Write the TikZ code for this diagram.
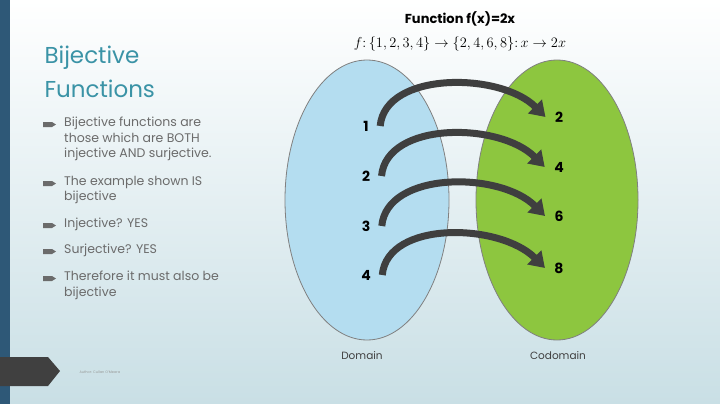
\documentclass[tikz,border=0pt]{standalone}
\usepackage{fontspec}
\setmainfont{Poppins}
\usetikzlibrary{arrows.meta}
\definecolor{barblue}{HTML}{2E5877}
\definecolor{titleteal}{HTML}{3A93A6}
\definecolor{textgrey}{HTML}{6B6B6B}
\definecolor{domblue}{HTML}{B4DDF0}
\definecolor{codgreen}{HTML}{8DC63F}
\definecolor{arrgrey}{HTML}{3F3F3F}
\definecolor{bgbottom}{HTML}{C9DFE5}
\tikzset{
  num/.style={font=\fontsize{14}{14}\selectfont\bfseries, text=black},
  maparrow/.style={line width=7pt, color=arrgrey, -{Triangle[width=19pt,length=15pt]}},
  bullet/.style={anchor=north west, text width=172pt, align=flush left, inner sep=0pt,
    font=\fontsize{12.5}{15.5}\selectfont, text=textgrey},
}
\begin{document}
\begin{tikzpicture}[x=1pt,y=-1pt]

% background
\shade[top color=white, bottom color=bgbottom] (0,0) rectangle (720,404);
\fill[barblue] (0,0) rectangle (10,404);
\fill[black!75] (0,357) -- (48,357) -- (60,371) -- (48,386) -- (0,386) -- cycle;
\node[font=\fontsize{3.5}{4}\selectfont, text=black!40, anchor=west] (author) at (76,372) {Author: Cullan O'Meara};

% left text
\node[anchor=west, text=titleteal, font=\fontsize{23}{24}\selectfont] (t1) at (41,58) {Bijective};
\node[anchor=west, text=titleteal, font=\fontsize{23}{24}\selectfont] (t2) at (41,89) {Functions};

\foreach \y/\txt in {117/{Bijective functions are those which are BOTH injective AND surjective.},
                     176/{The example shown IS bijective},
                     218/{Injective? YES},
                     244/{Surjective? YES},
                     271/{Therefore it must also be bijective}}{
  \fill[textgrey] (43,\y+5) -- (52,\y+5) -- (56,\y+7.5) -- (52,\y+10) -- (43,\y+10) -- cycle;
  \node[bullet] at (64,\y) {\hyphenpenalty=10000 \txt};
}

% sets
\fill[domblue, draw=black!50, line width=0.8pt] (367,200) ellipse [x radius=82, y radius=140];
\fill[codgreen, draw=black!50, line width=0.8pt] (557,200) ellipse [x radius=81, y radius=140];

\node[font=\fontsize{13}{14}\selectfont\bfseries] (title) at (460,19) {Function f(x)=2x};
\node[font=\fontsize{14}{14}\selectfont] (formula) at (460,44) {$f\colon\{1,2,3,4\}\to\{2,4,6,8\}\colon x\to 2x$};

\node[num] (l1) at (366,126) {1};
\node[num] (l2) at (366,176) {2};
\node[num] (l3) at (366,226) {3};
\node[num] (l4) at (366,275) {4};
\node[num] (r2) at (559,117) {2};
\node[num] (r4) at (559,167) {4};
\node[num] (r6) at (559,216) {6};
\node[num] (r8) at (559,268) {8};

\foreach \a/\b in {l1/r2,l2/r4,l3/r6,l4/r8}{
  \draw[maparrow] ([xshift=8pt]\a.east) .. controls +(5,-55) and +(-45,-45) .. ([xshift=-6pt]\b.west);
}

\node[font=\fontsize{10.5}{12}\selectfont, text=black!75] (dom) at (362,356) {Domain};
\node[font=\fontsize{10.5}{12}\selectfont, text=black!75] (cod) at (558,356) {Codomain};

\end{tikzpicture}
\end{document}
